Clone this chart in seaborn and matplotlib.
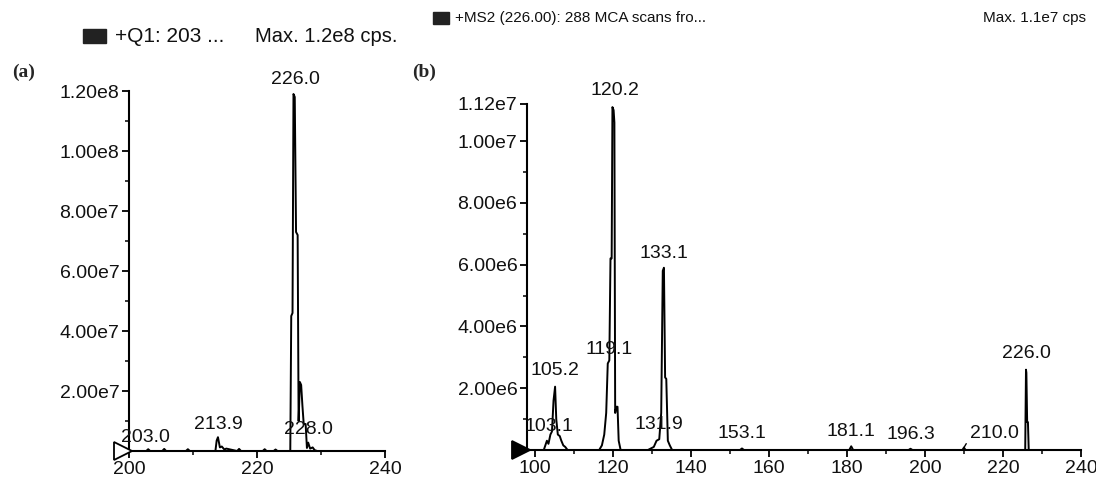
import numpy as np
import pandas as pd
import seaborn as sns
import matplotlib
matplotlib.use("Agg")
import matplotlib.pyplot as plt
from matplotlib.patches import Rectangle
from matplotlib.ticker import FixedLocator, MultipleLocator
import matplotlib.transforms as mtransforms

# ---- data: (a) Q1 full scan ----
a_mz = [200.0, 202.7, 203.0, 203.3, 205.2, 205.5, 205.8, 208.9, 209.2, 209.5,
        213.5, 213.7, 213.9, 214.2, 214.5, 214.9, 215.2, 216.9, 217.2, 217.5,
        220.9, 221.2, 221.5, 222.6, 222.9, 223.2, 225.2, 225.35, 225.55, 225.7,
        225.9, 226.1, 226.35, 226.5, 226.7, 226.9, 227.1, 227.3, 227.6, 227.8,
        228.0, 228.3, 228.7, 229.0, 229.4, 240.0]
a_int = [0, 0, 0.6e6, 0, 0, 0.7e6, 0, 0, 0.6e6, 0,
         0, 3.5e6, 4.6e6, 1.2e6, 1.5e6, 0.5e6, 0.8e6, 0, 0.7e6, 0,
         0, 0.6e6, 0, 0, 0.5e6, 0, 0, 4.5e7, 4.6e7, 1.19e8,
         1.18e8, 7.3e7, 7.2e7, 1.0e7, 2.3e7, 2.2e7, 1.5e7, 0.9e7, 0.9e7, 1.0e6,
         2.8e6, 0.8e6, 1.2e6, 0.3e6, 0, 0]
a_labels = ["203.0", "213.9", "226.0", "228.0"]
a_label_mz = [203.0, 213.9, 225.7, 228.0]
a_yticks = [2e7, 4e7, 6e7, 8e7, 1e8, 1.2e8]
a_yticklabels = ["2.00e7", "4.00e7", "6.00e7", "8.00e7", "1.00e8", "1.20e8"]
a_xticks = [200, 220, 240]

# ---- data: (b) MS2 product ions of 226 ----
b_mz = [98.0, 102.3, 102.7, 103.1, 103.5, 104.0, 104.4, 104.8, 105.2, 105.5,
        105.9, 106.4, 106.8, 107.3, 107.8, 108.4, 116.5, 117.2, 117.8, 118.3,
        118.7, 119.1, 119.4, 119.7, 119.9, 120.2, 120.4, 120.6, 120.9, 121.2,
        121.5, 122.0, 129.0, 130.5, 131.2, 131.9, 132.4, 132.8, 133.1, 133.4,
        133.7, 134.1, 134.6, 135.2, 152.6, 153.1, 153.6, 180.6, 181.1, 181.6,
        195.8, 196.3, 196.8, 209.6, 210.0, 210.4, 225.7, 225.9, 226.0, 226.2,
        226.4, 226.6, 240.0]
b_int = [0, 0, 0.15e6, 0.3e6, 0.2e6, 0.5e6, 0.6e6, 1.6e6, 2.05e6, 1.0e6,
         0.5e6, 0.45e6, 0.3e6, 0.15e6, 0.1e6, 0, 0, 0.15e6, 0.5e6, 1.2e6,
         2.8e6, 2.9e6, 6.2e6, 6.2e6, 11.1e6, 11.0e6, 10.6e6, 1.2e6, 1.4e6, 1.4e6,
         0.3e6, 0, 0, 0.1e6, 0.3e6, 0.35e6, 1.2e6, 5.8e6, 5.9e6, 2.35e6,
         2.3e6, 0.3e6, 0.15e6, 0, 0, 0.05e6, 0, 0, 0.12e6, 0,
         0, 0.04e6, 0, 0, 0.08e6, 0, 0, 2.6e6, 2.5e6, 0.9e6,
         0.9e6, 0, 0]
b_labels = ["103.1", "105.2", "119.1", "120.2", "131.9", "133.1",
            "153.1", "181.1", "196.3", "210.0", "226.0"]
b_label_mz = [103.1, 105.2, 119.1, 119.9, 131.9, 133.1,
              153.1, 181.1, 196.3, 210.0, 225.9]
b_yticks = [2e6, 4e6, 6e6, 8e6, 1e7, 1.12e7]
b_yticklabels = ["2.00e6", "4.00e6", "6.00e6", "8.00e6", "1.00e7", "1.12e7"]
b_xticks = [100, 120, 140, 160, 180, 200, 220, 240]

df_a = pd.DataFrame({"mz": a_mz, "intensity": a_int})
df_b = pd.DataFrame({"mz": b_mz, "intensity": b_int})

sns.set_theme(style="ticks")
plt.rcParams["font.family"] = ["Liberation Sans", "DejaVu Sans"]

W, H = 1096, 482
fig = plt.figure(figsize=(W / 100, H / 100), dpi=100)


def px_axes(x0, x1, y_top, y_bot):
    return fig.add_axes([x0 / W, (H - y_bot) / H, (x1 - x0) / W, (y_bot - y_top) / H])


ax_a = px_axes(129, 385, 91, 451)
ax_b = px_axes(527, 1081, 104, 450)

fs = 14
for ax, df in [(ax_a, df_a), (ax_b, df_b)]:
    sns.lineplot(data=df, x="mz", y="intensity", ax=ax, color="black",
                 linewidth=1.4, estimator=None, sort=False)
    sns.despine(ax=ax)
    ax.set_xlabel("")
    ax.set_ylabel("")
    for s in ["left", "bottom"]:
        ax.spines[s].set_linewidth(1.5)
        ax.spines[s].set_color("black")
    ax.tick_params(which="major", length=5, width=1.3, color="black",
                   labelsize=fs, pad=2, labelcolor="#111111")
    ax.tick_params(which="minor", length=3, width=1.1, color="black")
    ax.set_facecolor("white")

# panel a axes
ax_a.set_xlim(200, 240)
ax_a.set_ylim(0, 1.2e8)
ax_a.set_xticks(a_xticks)
ax_a.xaxis.set_minor_locator(MultipleLocator(10))
ax_a.set_yticks(a_yticks)
ax_a.set_yticklabels(a_yticklabels)
ax_a.yaxis.set_minor_locator(MultipleLocator(1e7))

# panel b axes
ax_b.set_xlim(98, 240)
ax_b.set_ylim(0, 1.12e7)
ax_b.set_xticks(b_xticks)
ax_b.xaxis.set_minor_locator(MultipleLocator(10))
ax_b.set_yticks(b_yticks)
ax_b.set_yticklabels(b_yticklabels)
ax_b.yaxis.set_minor_locator(FixedLocator([1e6, 3e6, 5e6, 7e6, 9e6]))

# peak labels
a_off = [(-3, 3), (0, 4), (2, 6), (0, 5)]
for txt, mz, off in zip(a_labels, a_label_mz, a_off):
    y = a_int[a_mz.index(mz)]
    ax_a.annotate(txt, (mz, y), xytext=off, textcoords="offset pixels",
                  ha="center", va="bottom", fontsize=fs, color="#111111")

b_off = [(2, 6), (0, 8), (0, 2), (2, 8), (0, 6), (0, 6),
         (0, 6), (0, 6), (0, 6), (30, 6), (0, 8)]
for txt, mz, off in zip(b_labels, b_label_mz, b_off):
    y = b_int[b_mz.index(mz)]
    if txt == "210.0":
        ax_b.annotate(txt, (mz, y), xytext=off, textcoords="offset pixels",
                      ha="center", va="bottom", fontsize=fs, color="#111111",
                      arrowprops=dict(arrowstyle="-", color="black", lw=1,
                                      shrinkA=0, shrinkB=0,
                                      relpos=(0.0, 0.2)))
    else:
        ax_b.annotate(txt, (mz, y), xytext=off, textcoords="offset pixels",
                      ha="center", va="bottom", fontsize=fs, color="#111111")

# origin triangles
for ax, face in [(ax_a, "white"), (ax_b, "black")]:
    tr = mtransforms.offset_copy(ax.transData, fig=fig, x=-6, y=0, units="dots")
    x0 = ax.get_xlim()[0]
    ax.plot([x0], [0], marker=">", markersize=13, markerfacecolor=face,
            markeredgecolor="black", markeredgewidth=1.3, transform=tr,
            clip_on=False, zorder=5)

# headers
fig.patches.append(Rectangle((83 / W, 1 - 43 / H), 23 / W, 14 / H,
                             transform=fig.transFigure, color="#222222"))
fig.text(115 / W, 1 - 36 / H, "+Q1: 203 ...", fontsize=15, va="center",
         color="#111111")
fig.text(255 / W, 1 - 36 / H, "Max. 1.2e8 cps.", fontsize=14.5, va="center",
         color="#111111")

fig.patches.append(Rectangle((433 / W, 1 - 24 / H), 16 / W, 12 / H,
                             transform=fig.transFigure, color="#222222"))
fig.text(455 / W, 1 - 18 / H, "+MS2 (226.00): 288 MCA scans fro...",
         fontsize=11, va="center", color="#111111")
fig.text(1086 / W, 1 - 18 / H, "Max. 1.1e7 cps", fontsize=11, va="center",
         ha="right", color="#111111")

fig.text(12 / W, 1 - 72 / H, "(a)", fontsize=14, fontweight="bold",
         family="Liberation Serif", va="center")
fig.text(412 / W, 1 - 72 / H, "(b)", fontsize=14, fontweight="bold",
         family="Liberation Serif", va="center")

fig.savefig("out.png", dpi=100, facecolor="white")
